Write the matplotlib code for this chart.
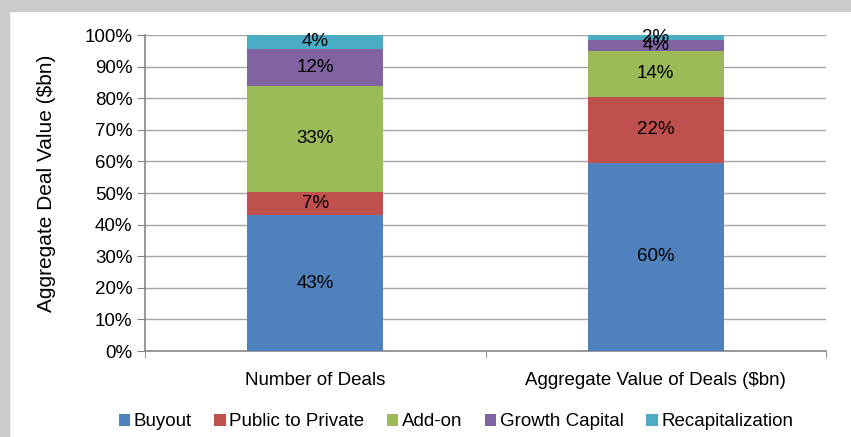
import numpy as np
import matplotlib.pyplot as plt
from matplotlib.patches import Rectangle

plt.rcParams["font.family"] = ["Liberation Sans", "DejaVu Sans"]

# Data (percent of total)
categories = ["Number of Deals", "Aggregate Value of Deals ($bn)"]
series_names = ["Buyout", "Public to Private", "Add-on", "Growth Capital", "Recapitalization"]
buyout = [43.0, 59.6]
public_to_private = [7.4, 20.9]
add_on = [33.4, 14.4]
growth_capital = [11.8, 3.6]
recapitalization = [4.4, 1.5]
colors = ["#4F81BD", "#C0504D", "#9BBB59", "#8064A2", "#4BACC6"]

series = [buyout, public_to_private, add_on, growth_capital, recapitalization]
# labels as printed on the chart (rounded in the source)
label_text = [["43%", "60%"], ["7%", "22%"], ["33%", "14%"], ["12%", "4%"], ["4%", "2%"]]

fig = plt.figure(figsize=(8.51, 4.37), dpi=100)

# gray frame at top and left
fig.patches.append(Rectangle((0, 1 - 10.5 / 437), 1, 10.5 / 437, transform=fig.transFigure,
                             color="#CBCCCE", zorder=0))
fig.patches.append(Rectangle((0, 0), 9 / 851, 1, transform=fig.transFigure,
                             color="#CBCCCE", zorder=0))

ax = fig.add_axes([145 / 851, 1 - 351 / 437, 681 / 851, 316 / 437])

x = np.arange(len(categories))
bottom = np.zeros(len(categories))
for name, vals, c, labs in zip(series_names, series, colors, label_text):
    vals = np.array(vals)
    ax.bar(x, vals / 100, width=0.4, bottom=bottom / 100, color=c, label=name, zorder=3)
    for xi, b, v, t in zip(x, bottom, vals, labs):
        ax.text(xi, (b + v / 2) / 100, t, ha="center", va="center",
                fontsize=13.5, color="black", zorder=4)
    bottom += vals

ax.set_xlim(-0.5, 1.5)
ax.set_ylim(0, 1)
ax.set_yticks(np.arange(0, 1.01, 0.1))
ax.set_yticklabels([f"{int(round(t * 100))}%" for t in np.arange(0, 1.01, 0.1)], fontsize=13.5)
ax.set_xticks(x)
ax.set_xticklabels(categories, fontsize=13.5)
ax.set_xticks([-0.5, 0.5, 1.5], minor=True)
ax.tick_params(axis="x", which="major", length=0, pad=15)
ax.tick_params(axis="x", which="minor", length=5, color="#868686", direction="out")
ax.tick_params(axis="y", length=6, color="#868686", direction="out", pad=3)

ax.yaxis.grid(True, color="#A6A6A6", linewidth=1, zorder=1)
for s in ["top", "right"]:
    ax.spines[s].set_visible(False)
for s in ["left", "bottom"]:
    ax.spines[s].set_color("#868686")
    ax.spines[s].set_linewidth(1.2)

ax.set_ylabel("Aggregate Deal Value ($bn)", fontsize=15)
ax.yaxis.set_label_coords(-0.131, 0.53)

fig.legend(loc="center", bbox_to_anchor=(456 / 851, 1 - 422 / 437), ncol=5, frameon=False,
           fontsize=13.5, handlelength=0.6, handleheight=0.6, handletextpad=0.2,
           columnspacing=1.2)

fig.savefig("out.png", dpi=100)
